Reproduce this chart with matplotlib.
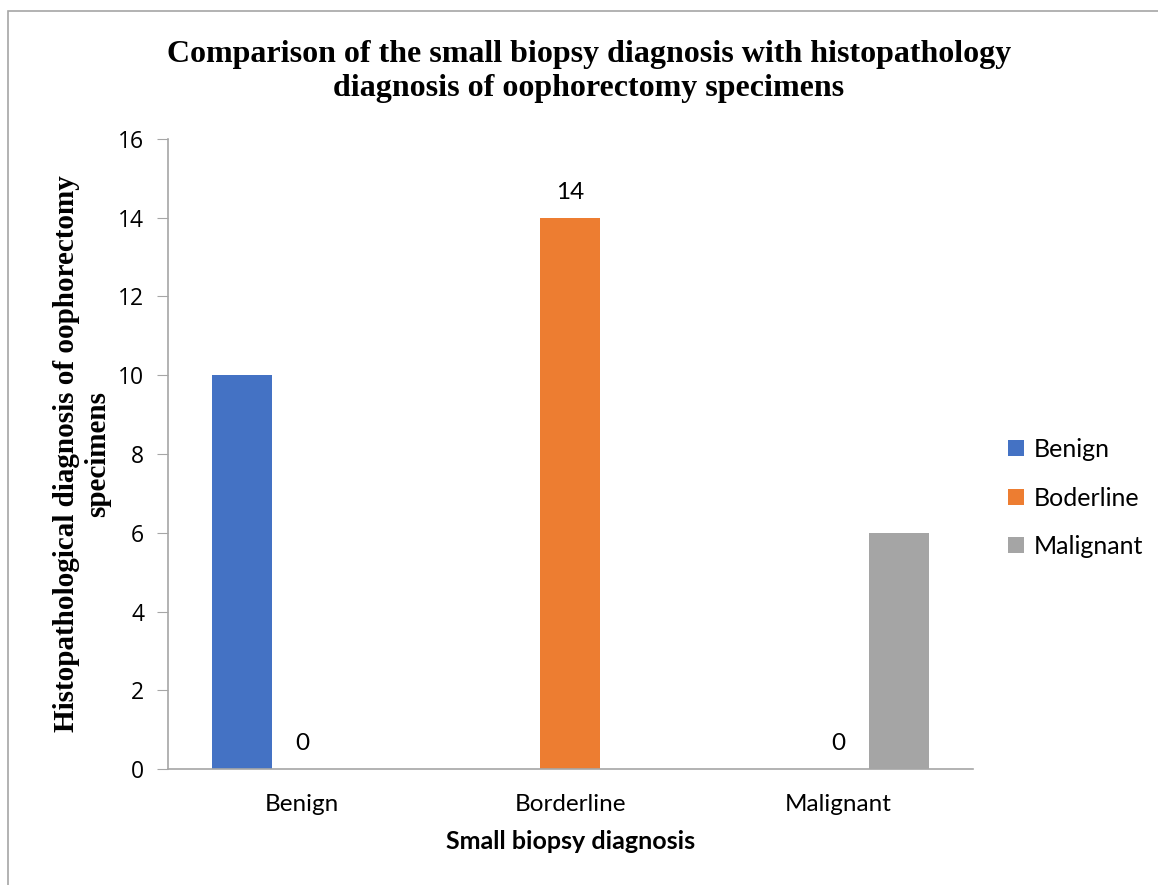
import numpy as np
import matplotlib
matplotlib.use('Agg')
import matplotlib.pyplot as plt
from matplotlib.patches import Rectangle

# Chart data
categories = ['Benign', 'Borderline', 'Malignant']
series_names = ['Benign', 'Boderline', 'Malignant']
benign_vals = [10, np.nan, np.nan]
boderline_vals = [0, 14, 0]
malignant_vals = [np.nan, np.nan, 6]
colors = ['#4472C4', '#ED7D31', '#A5A5A5']
y_ticks = [0, 2, 4, 6, 8, 10, 12, 14, 16]

sans = ['Lato', 'DejaVu Sans']
serif = ['Liberation Serif', 'DejaVu Serif']

fig = plt.figure(figsize=(11.58, 8.85), dpi=100)
ax = fig.add_axes([0.145, 0.131, 0.695, 0.712])

# frame around the chart area (partly cropped in the original)
fig.patches.append(Rectangle((8 / 1158, -0.1), 1.2, 1 - 11 / 885 + 0.1,
                             transform=fig.transFigure, fill=False,
                             edgecolor='#A6A6A6', linewidth=1.2))

x = np.arange(len(categories))
w = 0.224
all_vals = [benign_vals, boderline_vals, malignant_vals]
for i, (vals, name, c) in enumerate(zip(all_vals, series_names, colors)):
    bars = ax.bar(x + (i - 1) * w, vals, width=w, color=c, label=name)
    if name == 'Boderline':
        for xi, v in zip(x, vals):
            ax.text(xi + (i - 1) * w, v + 0.38, f'{v:g}', ha='center',
                    va='bottom', fontsize=17.5, family=sans, color='#000000')

ax.set_xlim(-0.5, 2.5)
ax.set_ylim(0, 16)
ax.set_yticks(y_ticks)
ax.set_xticks(x)
ax.set_xticklabels(categories, family=sans, fontsize=17.5)
ax.set_yticklabels([str(t) for t in y_ticks], family=['Open Sans', 'DejaVu Sans'], fontsize=16.5)
ax.tick_params(axis='x', length=0, pad=18)
ax.tick_params(axis='y', length=8, color='#A6A6A6', pad=9)

for s in ['top', 'right']:
    ax.spines[s].set_visible(False)
for s in ['left', 'bottom']:
    ax.spines[s].set_color('#A6A6A6')
    ax.spines[s].set_linewidth(1.2)

ax.set_xlabel('Small biopsy diagnosis', family=sans, fontsize=18,
              fontweight='bold', labelpad=11)
ax.set_ylabel('Histopathological diagnosis of oophorectomy\nspecimens',
              family=serif, fontsize=21, fontweight='bold', labelpad=5,
              linespacing=1.2)

fig.suptitle('Comparison of the small biopsy diagnosis with histopathology\n'
             'diagnosis of oophorectomy specimens', x=0.5086, y=0.955,
             family=serif, fontsize=23, fontweight='bold', linespacing=1.25)

ax.legend(loc='center left', bbox_to_anchor=(1.016, 0.43), frameon=False,
          prop={'family': sans, 'size': 18}, handlelength=0.62,
          handleheight=0.62, labelspacing=1.02, handletextpad=0.4)

fig.savefig('out.png', dpi=100)
